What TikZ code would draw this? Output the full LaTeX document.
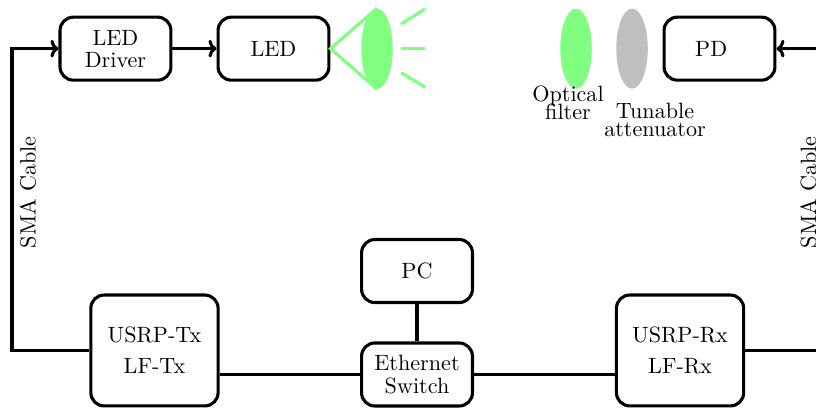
\documentclass[tikz,border=0pt]{standalone}
\usepackage{amsmath, amssymb}
\usetikzlibrary{arrows.meta, calc, positioning, shapes.geometric}

\begin{document}
\begin{tikzpicture}[
    >={Computer Modern Rightarrow[length=3.6pt, width=8pt]},
    block node/.style={draw, line width=1.4pt, rounded corners=6pt, align=center, inner sep=0pt, minimum width=1.76cm, minimum height=1cm},
    usrp node/.style={block node, minimum width=2.02cm, minimum height=1.76cm},
    lens node/.style={ellipse, fill=#1, inner sep=0pt, minimum width=0.5cm, minimum height=1.27cm},
    note node/.style={align=center, inner sep=0pt},
    cable node/.style={rotate=90, inner sep=0pt},
    wire/.style={line width=1.4pt},
    beam/.style={line width=1.4pt, green!50}]
    \useasboundingbox (0,0) rectangle (12.952,6.492);

    \node[block node] (driver) at (1.833,5.72) {LED\\[-2pt]Driver};
    \node[block node] (led) at (4.341,5.72) {LED};
    \node[block node] (pd) at (11.42,5.72) {PD\rule{7.5pt}{0pt}};
    \node[block node] (pc) at (6.619,2.19) {PC};
    \node[block node] (switch) at (6.619,0.548) {Ethernet\\[-2pt]Switch};
    \node[usrp node] (usrptx) at (2.452,0.929) {USRP-Tx\\[2pt]LF-Tx};
    \node[usrp node] (usrprx) at (10.794,0.929) {USRP-Rx\\[2pt]LF-Rx};

    \node[lens node=green!50] (lens) at (5.984,5.72) {};
    \node[lens node=green!50] (filter) at (9.143,5.72) {};
    \node[lens node=lightgray] (atten) at (10.032,5.72) {};
    \node[note node] (filterlabel) at (9.016,4.855) {Optical\\[-4pt]filter};
    \node[note node] (attenlabel) at (10.397,4.585) {Tunable\\[-4pt]attenuator};
    \node[cable node] (smaleft) at (0.444,3.44) {SMA Cable};
    \node[cable node] (smaright) at (12.83,3.44) {SMA Cable};

    \coordinate (txcorner) at (0.19,0.929);
    \coordinate (drivercorner) at (0.19,5.72);
    \coordinate (rxedge) at (12.952,0.929);
    \coordinate (pdedge) at (12.952,5.72);
    \coordinate (rayA) at (6.365,6.11);
    \coordinate (rayAend) at (6.746,6.35);
    \coordinate (rayB) at (6.365,5.72);
    \coordinate (rayBend) at (6.746,5.72);
    \coordinate (rayC) at (6.365,5.34);
    \coordinate (rayCend) at (6.746,5.11);

    \draw[wire, ->] (usrptx.west |- txcorner) -- (txcorner) -- (drivercorner) -- (driver);
    \draw[wire, ->] (driver) -- (led);
    \draw[wire, ->] (pdedge) -- (pd);
    \draw[wire] (usrprx) -- (rxedge);
    \draw[wire] (usrptx.east |- switch) -- (switch);
    \draw[wire] (switch) -- (usrprx.west |- switch);
    \draw[wire] (pc) -- (switch);

    \draw[beam] (lens.north) -- (led.east) -- (lens.south);
    \draw[beam] (rayA) -- (rayAend);
    \draw[beam] (rayB) -- (rayBend);
    \draw[beam] (rayC) -- (rayCend);
\end{tikzpicture}
\end{document}
